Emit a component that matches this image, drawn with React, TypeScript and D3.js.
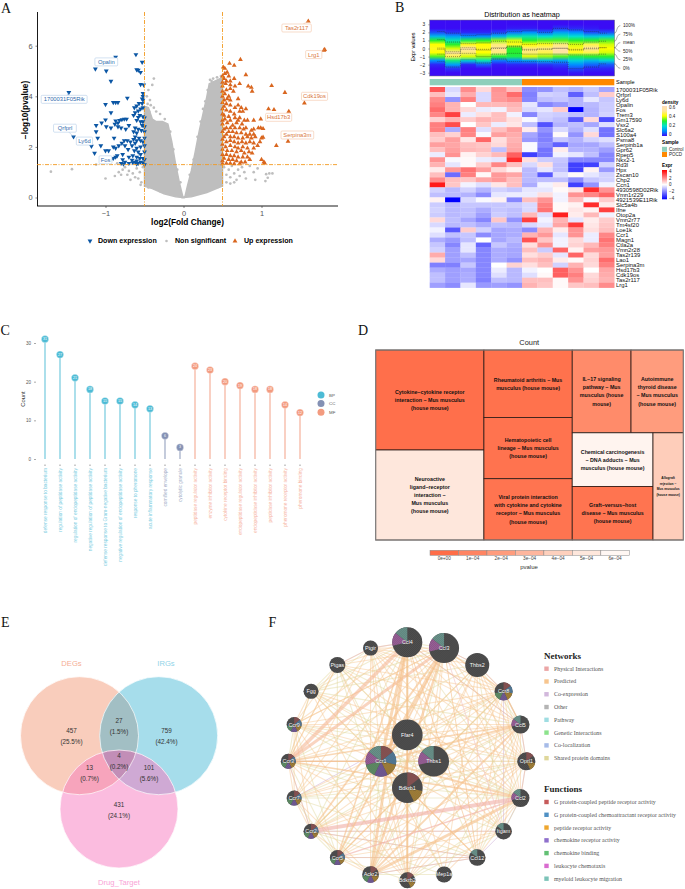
import * as d3 from 'd3';
import React from 'react';
import { useEffect, useRef } from 'react';

// A: volcano points [log2FC, -log10 p]
const downPoints = [[-0.87,5.55],[-0.61,5.65],[-0.53,5.35],[-1.13,5.08],[-0.99,5.0],[-0.6,5.05],[-0.58,5.03],[-0.55,4.95],[-0.93,4.6],[-0.55,4.47],[-0.51,4.45],[-1.47,4.15],[-0.52,4.12],[-0.52,4.0],[-0.53,3.9],[-0.72,3.93],[-1.0,3.68],[-0.9,3.76],[-0.87,3.76],[-0.84,3.76],[-0.52,3.85],[-0.53,3.72],[-0.57,3.72],[-0.6,3.62],[-0.63,3.55],[-0.55,3.5],[-0.58,3.42],[-0.52,3.55],[-0.93,3.35],[-0.62,3.35],[-0.64,3.25],[-0.56,3.25],[-0.58,3.17],[-0.52,3.2],[-0.5,3.15],[-0.6,3.05],[-0.55,3.0],[-0.52,3.0],[-0.53,2.85],[-0.5,2.8],[-0.73,3.1],[-0.76,3.1],[-0.79,3.08],[-0.82,3.05],[-0.87,3.03],[-0.84,2.95],[-0.88,2.9],[-1.0,3.07],[-1.05,2.95],[-1.12,2.85],[-0.93,2.75],[-0.99,2.8],[-0.84,2.8],[-0.8,2.75],[-0.74,2.7],[-0.62,2.75],[-0.64,2.6],[-0.58,2.7],[-0.54,2.65],[-0.5,2.6],[-0.7,2.85],[-0.6,2.55],[-1.12,2.6],[-1.1,2.35],[-0.89,2.35],[-1.18,2.03],[-1.06,2.05],[-0.62,2.4],[-0.64,2.3],[-0.6,2.25],[-0.57,2.35],[-0.55,2.25],[-0.52,2.2],[-0.5,2.35],[-0.62,2.15],[-0.68,2.2],[-0.72,2.25],[-0.76,2.25],[-0.79,2.15],[-0.83,2.05],[-0.87,1.95],[-0.9,2.0],[-0.96,1.85],[-1.0,1.85],[-1.14,1.75],[-0.98,1.5],[-0.93,1.5],[-0.9,1.55],[-0.87,1.6],[-0.85,1.65],[-0.78,1.7],[-0.71,1.9],[-0.75,2.05],[-0.66,2.05],[-0.6,1.95],[-0.55,2.0],[-0.5,2.05],[-0.63,1.85],[-0.58,1.8],[-0.5,1.8],[-0.55,1.7],[-0.7,1.6],[-0.65,1.65],[-0.6,1.6],[-0.56,1.55],[-0.52,1.55],[-0.5,1.5],[-0.78,1.5],[-0.75,1.4],[-0.7,1.35],[-0.65,1.38],[-0.62,1.4],[-0.6,1.45],[-0.58,1.35],[-0.55,1.4],[-0.52,1.38],[-0.66,1.48],[-0.8,1.35],[-0.77,1.33],[-0.6,1.33],[-0.5,1.3],[-1.41,2.4]];
const upPoints = [[1.6,6.97],[1.81,5.85],[1.8,5.82],[0.73,5.45],[0.59,5.3],[0.65,5.22],[0.51,5.15],[0.53,5.1],[0.56,4.95],[0.8,4.85],[0.53,4.9],[0.58,4.8],[0.5,4.8],[0.52,4.7],[0.6,4.6],[0.65,4.7],[0.55,4.6],[0.72,4.5],[0.5,4.55],[0.54,4.5],[0.6,4.45],[0.66,4.4],[0.83,4.4],[0.87,4.35],[1.13,4.42],[0.88,4.2],[1.3,4.15],[0.5,4.4],[0.55,4.25],[0.5,4.2],[0.6,4.3],[0.64,4.2],[0.53,4.1],[0.58,4.0],[0.5,4.0],[0.56,3.9],[0.52,3.85],[0.6,3.85],[0.7,3.9],[0.5,3.75],[0.55,3.7],[0.6,3.65],[0.52,3.6],[0.5,3.5],[1.55,3.73],[1.09,3.5],[1.16,3.47],[1.35,3.4],[0.7,3.65],[0.74,3.55],[0.66,3.55],[0.8,3.5],[0.72,3.4],[0.76,3.4],[0.55,3.45],[0.6,3.4],[0.65,3.3],[0.58,3.2],[0.52,3.25],[0.5,3.3],[0.66,3.15],[0.72,3.15],[0.7,3.05],[0.6,3.05],[0.53,3.1],[0.5,3.05],[0.78,3.05],[0.82,3.05],[0.9,3.05],[0.99,3.1],[0.56,2.95],[0.63,2.85],[0.5,2.9],[0.68,2.95],[0.75,2.9],[0.8,2.75],[0.72,2.75],[0.77,2.7],[0.66,2.75],[0.6,2.75],[0.55,2.75],[0.52,2.7],[0.5,2.6],[0.9,2.7],[0.96,2.75],[0.99,2.75],[1.02,2.72],[0.87,2.65],[0.58,2.6],[0.63,2.6],[0.68,2.55],[0.74,2.55],[0.8,2.5],[0.85,2.5],[0.9,2.5],[0.55,2.5],[0.52,2.4],[0.6,2.4],[0.65,2.4],[0.7,2.35],[0.76,2.35],[0.82,2.4],[0.87,2.35],[0.92,2.4],[1.0,2.35],[1.02,2.38],[0.98,2.2],[1.34,2.22],[1.19,2.05],[0.5,2.3],[0.55,2.2],[0.6,2.25],[0.65,2.2],[0.7,2.15],[0.75,2.2],[0.8,2.15],[0.85,2.2],[0.9,2.15],[0.95,2.05],[0.5,2.1],[0.54,2.0],[0.6,2.05],[0.66,2.0],[0.7,1.95],[0.76,2.0],[0.82,1.95],[0.9,1.95],[0.5,1.9],[0.56,1.85],[0.62,1.85],[0.68,1.8],[0.74,1.85],[0.78,1.75],[0.84,1.8],[0.88,1.75],[0.5,1.7],[0.55,1.7],[0.6,1.65],[0.65,1.65],[0.7,1.6],[0.76,1.6],[0.82,1.6],[0.52,1.55],[0.58,1.5],[0.63,1.5],[0.68,1.45],[0.74,1.4],[0.79,1.4],[0.85,1.5],[1.0,1.5],[1.03,1.4],[1.04,1.36],[0.5,1.45],[0.55,1.35],[0.6,1.35],[0.65,1.33],[0.72,1.33],[0.5,1.33]];
const grayPoints = [[-1.7,1.02],[-1.43,1.12],[-1.12,1.3],[-1.0,0.75],[-0.85,1.35],[-0.88,0.85],[-0.83,1.0],[-0.8,0.9],[-0.78,1.1],[-0.75,1.2],[-0.72,0.9],[-0.7,1.05],[-0.68,0.7],[-0.65,0.95],[-0.62,0.8],[-0.6,1.15],[-0.58,0.75],[-0.56,1.0],[-0.54,0.6],[-0.52,1.2],[-0.55,0.5],[-0.38,4.7],[-0.4,4.45],[-0.45,4.25],[-0.47,4.0],[-0.43,3.85],[-0.46,3.7],[-0.42,3.65],[-0.38,3.55],[-0.35,3.4],[-0.3,3.3],[-0.48,3.55],[-0.44,3.4],[-0.24,3.1],[-0.17,2.6],[-0.13,1.9],[-0.08,1.1],[-0.04,0.6],[0.34,4.65],[0.36,4.6],[0.31,4.25],[0.28,3.8],[0.25,3.5],[0.38,4.7],[0.43,4.75],[0.48,4.8],[0.45,4.55],[0.22,3.0],[0.18,2.4],[0.13,1.5],[0.08,0.9],[0.52,1.2],[0.55,0.9],[0.58,1.1],[0.6,0.8],[0.62,1.25],[0.65,0.95],[0.68,0.7],[0.7,1.1],[0.72,0.85],[0.75,1.2],[0.78,1.0],[0.55,0.6],[0.6,0.55],[0.65,0.6],[0.8,0.75],[0.85,1.25],[0.9,1.0],[1.06,0.92],[1.08,0.78],[1.1,0.95],[1.14,0.95],[0.95,1.15],[0.92,0.7],[1.05,0.65],[-0.3,0.25],[0.3,0.25],[-0.45,0.4],[0.45,0.42]];
const leftWing = [[-0.5,0.45],[-0.5,3.6],[-0.45,3.55],[-0.4,3.1],[-0.35,3.0],[-0.27,3.0],[-0.2,2.9],[-0.15,2.2],[-0.1,1.3],[-0.05,0.55],[-0.01,0.05],[0,0],[-0.1,0.03],[-0.25,0.15],[-0.4,0.35]];
const rightWing = [[0,0],[0.02,0.05],[0.05,0.45],[0.1,1.05],[0.15,1.8],[0.2,2.6],[0.25,3.3],[0.3,4.0],[0.33,4.5],[0.4,4.6],[0.5,4.75],[0.5,0.45],[0.3,0.2],[0.1,0.03]];
const geneBoxes = [
  { name: 'Tas2r117', x: 1.45, y: 6.7, up: true, px: 1.6, py: 6.97 },
  { name: 'Lrg1', x: 1.67, y: 5.65, up: true, px: 1.81, py: 5.85 },
  { name: 'Cdk19os', x: 1.68, y: 4.0, up: true },
  { name: 'Hsd17b3', x: 1.22, y: 3.17, up: true },
  { name: 'Serpina3m', x: 1.46, y: 2.47, up: true },
  { name: 'Opalin', x: -0.99, y: 5.36, up: false, px: -0.87, py: 5.55 },
  { name: '1700031F05Rik', x: -1.53, y: 3.88, up: false, px: -1.47, py: 4.15 },
  { name: 'Qrfprl', x: -1.52, y: 2.74, up: false, px: -1.41, py: 2.4 },
  { name: 'Ly6d', x: -1.27, y: 2.23, up: false },
  { name: 'Fos', x: -1.0, y: 1.49, up: false },
];

// B: heatmap
const geneRows = ['1700031F05Rik','Qrfprl','Ly6d','Opalin','Fos','Trem3','Gm17590','Vsx2','Slc6a2','S100a4','Psma8','Serpinb1a','Gpr62','Rpep5','Nkx2-1','Rd3l','Hpx','Zscan10','Chp2','Ccn1','4930598D02Rik','Vmn1r229','4921539E11Rik','Slc5a4b','Ifne','Otop2a','Vmn2r77','Tm4sf20','Loe1k','Ccr1','Magn1','Ctla2a','Vmn2r28','Tas2r139','Lao1','Serpina3m','Hsd17b3','Cdk19os','Tas2r117','Lrg1'];
const exprMatrix = [
  [2.6,-0.6,1.8,0.6,1.7,1.0,-1.8,-1.7,-1.0,-1.2,-0.8,-1.4],
  [1.0,-0.4,1.3,-0.6,1.6,2.3,-2,-0.7,-0.8,-2.5,-1,0.8],
  [1.8,-1.7,2.0,-0.6,1.6,1.8,-1.9,-1.0,-0.9,-1.2,-0.4,-0.9],
  [2,1.2,0,1.1,1.1,1.2,-0.4,-1.9,-1.6,-1.2,-1.1,-0.8],
  [2.3,1.2,0.6,-0.3,-0.2,1,-0.6,-0.4,0.8,-4,-1.2,-0.8],
  [1.9,3,-0.3,0.5,1,-0.2,-1.9,-0.7,-0.8,-1,-1.2,-0.7],
  [0.7,1.2,0.8,1.2,1,0.5,-0.1,-0.8,-1,-2.6,0.6,-2.8],
  [2,2.8,0,0.9,-0.3,0.4,-1,-2.7,-1.2,-1,-1.4,-0.5],
  [2,-1.3,2,-0.5,1,1.5,0.3,-1.7,-0.6,-1.2,-0.5,-2.2],
  [1,0.7,1.9,-0.1,1.5,1.3,-1.4,-2,0.1,-1.7,0.6,-2.2],
  [0.8,1.5,0.4,2.4,0.5,1.2,-1.6,-2,-0.9,-1.2,-0.7,-0.5],
  [1.5,1.4,1,0.9,0.6,1.3,-0.1,-1.8,-2.5,-1.4,-1.4,-1],
  [1,1.5,1.1,1,-1,1.4,-0.1,-2.2,0.3,-1.2,-1.2,-1.5],
  [-0.3,1.7,0.2,0.7,1.1,2.5,-3,-2.2,-0.2,-0.4,-1,-1.9],
  [1.7,-0.1,0.1,-0.3,-0.4,3.3,0.5,-0.8,-0.9,-1.9,-1.9,-1.9],
  [1.2,-0.4,0.1,0.8,1.9,1,-0.6,0.5,-1,-3,-3,-0.7],
  [0.3,1.6,2.2,1.5,0.6,0.2,-1.1,-0.4,-1,-3,0.2,-1.6],
  [1,-2.3,2,0.1,1.6,1.4,-1.1,-2.6,-0.5,0.1,-0.4,-0.7],
  [1.8,1,0.9,1.4,1.6,1,-1.1,-1,-1,-1.8,-0.9,-0.7],
  [3.6,0.9,-0.2,-0.5,0.4,1,-1.3,-0.2,0.3,-3,-1.7,-0.2],
  [-0.7,-1.1,-0.7,-1.2,-0.7,-0.9,-0.4,-0.4,0.1,0.4,3.3,1.7],
  [-1,-1.1,-1.2,-1.8,-0.4,-0.3,-0.3,0.5,-0.2,1.7,1.9,2.4],
  [0.2,-4,-0.6,-0.1,0.2,-1.9,1,1.7,-0.2,1,-0.1,0.8],
  [-0.8,-1.1,-0.9,-0.9,-0.9,-0.8,-0.6,2.0,0.1,0.2,3.3,0.3],
  [-0.7,-1.1,-1,-1.3,-0.9,-1,-0.6,2.2,0.1,0.4,0.2,3.0],
  [-0.8,-1.1,-1,-1.5,-0.8,-1,1.1,-0.5,3.5,0.3,1.1,-0.2],
  [0.6,-1,-1.4,-1.9,0.9,-1.7,3,-0.2,1.2,-0.4,0.3,0.8],
  [-0.6,-1.1,-1,-1.3,-1,-1.1,-0.6,-0.4,1.4,3.1,0.4,0.9],
  [-0.2,-2.6,0.8,-0.7,-1.4,-1.3,-1.8,1.2,0.3,1.7,0.5,1],
  [-0.5,-1,-0.9,-1.8,-1.4,-1.3,1.2,1.6,-0.4,1.7,-0.3,1.9],
  [-1.3,-1.6,-1,0,-1.4,-1.1,2.7,0.9,-0.2,0.6,-0.3,2.2],
  [-0.9,-1.9,-0.4,-2.4,-0.9,-1.3,0.5,1.7,-0.2,0.7,1.1,2],
  [-0.7,-1.5,-0.4,-1.9,-1.3,-1.4,1,-0.8,2.4,0.2,1.5,1.6],
  [1.3,-1.5,-1,-1.9,-1.3,-1.4,0.5,0.8,-0.4,2.4,0.6,1.5],
  [0.6,-1.5,-1.4,-1.9,-1.3,-1.7,1,1.2,0.3,0.1,0.7,2.3],
  [-2,-2,-0.9,-1.9,0,0.7,0.5,1,-0.7,1.2,0.6,2],
  [-1.3,-1.5,-1.4,-1.9,-0.3,-1.1,-0.2,0,2.5,1.7,0,1.4],
  [-1,-1.5,-1.3,-1.9,-0.5,-1.1,-0.5,0.1,2.5,2,0.6,1.3],
  [-1,-1.5,-1.3,-2,-1,-1.1,1,1,0.1,1.7,0.7,1.2],
  [-1.5,-1.8,-0.4,-1.6,-1.5,-1.7,1.2,0.9,0.1,0.9,1,1.8],
];
const densityLevels = [3,2.5,2,1.5,1,0.5,0,-0.5,-1,-1.5,-2,-2.5,-3];
const densityColumns = [
  [0,0,0.05,0.15,0.3,0.4,0.42,0.4,0.32,0.1,0.02,0,0],
  [0,0,0.03,0.12,0.22,0.3,0.38,0.5,0.45,0.25,0.12,0.03,0],
  [0,0,0.02,0.1,0.28,0.42,0.52,0.48,0.38,0.18,0.02,0,0],
  [0,0,0.02,0.1,0.3,0.4,0.42,0.4,0.35,0.22,0.06,0,0],
  [0,0,0.04,0.15,0.35,0.48,0.5,0.48,0.3,0.08,0.01,0,0],
  [0,0.01,0.08,0.22,0.38,0.42,0.3,0.3,0.28,0.1,0.02,0,0],
  [0,0.01,0.1,0.22,0.3,0.4,0.48,0.48,0.38,0.12,0.02,0,0],
  [0,0,0.07,0.2,0.32,0.42,0.48,0.45,0.35,0.15,0.03,0,0],
  [0,0.03,0.12,0.22,0.32,0.48,0.55,0.52,0.32,0.12,0.04,0.01,0],
  [0,0.02,0.1,0.2,0.3,0.38,0.42,0.42,0.28,0.18,0.1,0.05,0.01],
  [0,0.01,0.05,0.17,0.3,0.45,0.5,0.45,0.3,0.15,0.07,0.02,0],
  [0,0,0.05,0.18,0.32,0.38,0.4,0.38,0.3,0.18,0.06,0.02,0],
];
const q100 = [2.1,1.9,1.6,1.7,1.9,2.1,2.2,2.0,2.5,2.3,2.1,1.9];
const q75 = [1.1,0.8,0.6,0.7,0.9,0.8,0.5,0.6,0.6,0.5,0.8,0.9];
const qMean = [0.05,-0.4,0.1,-0.1,0.1,0.3,-0.1,-0.05,0.05,-0.1,0.05,0.1];
const q50 = [-0.1,-0.6,-0.1,-0.2,0,0.2,-0.2,-0.1,0,-0.2,-0.05,0.1];
const q25 = [-0.7,-1.0,-0.6,-1.0,-0.7,-0.6,-0.7,-0.7,-0.7,-0.8,-0.8,-0.7];
const q0 = [-1.6,-2.3,-1.4,-1.8,-1.3,-1.6,-1.6,-1.6,-1.7,-2.5,-2.3,-1.9];

// C: lollipops
const goTerms = ['defense response to bacterium','regulation of peptidase activity','regulation of endopeptidase activity','negative regulation of peptidase activity','defense response to Gram-negative bacterium','negative regulation of endopeptidase activity','response to pheromone','acute inflammatory response','cornified envelope','cytolytic granule','peptidase regulator activity','enzyme inhibitor activity','cytokine receptor binding','endopeptidase regulator activity','endopeptidase inhibitor activity','peptidase inhibitor activity','pheromone receptor activity','pheromone binding'];
const goCounts = [31,27,21,18,15,15,14,13,6,3,24,23,20,19,18,18,14,12];
const goGroups = ['BP','BP','BP','BP','BP','BP','BP','BP','CC','CC','MF','MF','MF','MF','MF','MF','MF','MF'];

// D: treemap, sizes and p values
const keggTree = { name: 'root', children: [
  { name: 'a', children: [
    { name: 'cytokine', value: 20, p: 0.1e-4, lines: ['Cytokine−cytokine receptor','interaction − Mus musculus','(house mouse)'] },
    { name: 'neuro', value: 18, p: 5e-4, lines: ['Neuroactive','ligand−receptor','interaction −','Mus musculus','(house mouse)'] },
  ] },
  { name: 'b', children: [
    { name: 'rheum', value: 11, p: 0.2e-4, lines: ['Rheumatoid arthritis − Mus','musculus (house mouse)'] },
    { name: 'hema', value: 10, p: 0.25e-4, lines: ['Hematopoietic cell','lineage − Mus musculus','(house mouse)'] },
    { name: 'viral', value: 10, p: 0.3e-4, lines: ['Viral protein interaction','with cytokine and cytokine','receptor − Mus musculus','(house mouse)'] },
  ] },
  { name: 'c', children: [
    { name: 'top', children: [
      { name: 'il17', value: 9, p: 1.3e-4, lines: ['IL−17 signaling','pathway − Mus','musculus (house','mouse)'] },
      { name: 'auto', value: 8, p: 2e-4, lines: ['Autoimmune','thyroid disease','− Mus musculus','(house mouse)'] },
    ] },
    { name: 'bottom', children: [
      { name: 'left', children: [
        { name: 'chem', value: 8, p: 5.8e-4, lines: ['Chemical carcinogenesis','− DNA adducts − Mus','musculus (house mouse)'] },
        { name: 'graft', value: 8, p: 0.3e-4, lines: ['Graft−versus−host','disease − Mus musculus','(house mouse)'] },
      ] },
      { name: 'allo', value: 6, p: 3.9e-4, small: true, lines: ['Allograft','rejection −','Mus musculus','(house mouse)'] },
    ] },
  ] },
] };
const pvalueTicks = ['0e+00','1e−04','2e−04','3e−04','4e−04','5e−04','6e−04'];
const pvalueBins = [0, 1e-4, 2e-4, 3e-4, 4e-4, 5e-4, 6e-4];

// E: venn
const vennCounts = [
  { n: '457', pct: '(25.5%)', x: 71.5, y: 730 },
  { n: '759', pct: '(42.4%)', x: 166.5, y: 730 },
  { n: '27', pct: '(1.5%)', x: 119, y: 720 },
  { n: '4', pct: '(0.2%)', x: 119, y: 755.5 },
  { n: '13', pct: '(0.7%)', x: 89.5, y: 767 },
  { n: '101', pct: '(5.6%)', x: 149, y: 767 },
  { n: '431', pct: '(24.1%)', x: 119, y: 804 },
];

// F: gene network. slots are the function colours present on a node
const ringNodes = ['Ccl4','Ccl3','Thbs2','Ccr8','Ccl5','Oprl1','Ccl2','Itgam','Ccl12','Mep1a','Bdkrb2','Ackr2','Ccr5','Ccr2','Ccr7','Ccr3','Ccr9','Fgg','Ptgas','Ptgir'];
const ringSizes = [15,15,12,9,9,9,9,8.3,8.3,8,8,8.3,7.5,7.5,7.5,7.5,7.5,7.5,8,7.5];
const innerNodes = ['Ffar4','Thbs1','Bdkrb1','Ccr1'];
const innerSizes = [15.3,15.3,15.3,15.3];
const nodeFunctions: any = {
  Ccl4: [5,6], Ccl3: [5,6], Ccl5: [5,6], Ccl2: [5,6], Itgam: [6], Ccl12: [6], Thbs1: [5,6],
  Ccr1: [0,1,2,3,4,5,6], Ccr8: [0,1,2,3,4], Ccr9: [0,1,2,3,4], Ccr3: [0,1,2,3,4], Ccr7: [0,1,2,3,4], Ccr2: [0,1,2,3,4], Ccr5: [0,1,2,3,4],
  Ackr2: [0,2,3,4], Bdkrb1: [0,2], Bdkrb2: [0,2], Oprl1: [0,2],
};
const thickLinks = [
  ['Ccl4','Ccr3',3.5,'#f6b99a'],['Ccl3','Ccr3',3,'#f6b99a'],['Ccl4','Ccr1',3,'#f6c08b'],['Ccl3','Ccr1',3,'#f6c08b'],['Ccl4','Ackr2',2.8,'#f6c08b'],['Ccl3','Ackr2',2.4,'#f6c08b'],['Ccl2','Ackr2',3,'#f6c08b'],['Ccl2','Ccr2',3.8,'#f0b0a8'],['Ccl5','Ccr1',2,'#f6c08b'],['Ccl2','Ccr1',2,'#f6c08b'],['Ccl5','Ccr3',1.5,'#f6c08b'],['Ccl3','Ccr5',1.8,'#f6c08b'],['Ccl3','Ccr2',1.8,'#f6c08b'],['Ccl4','Ccr5',1.5,'#f6c08b'],['Ccl4','Bdkrb2',2.2,'#f6c08b'],['Ccl3','Ccr8',1.5,'#f6c08b'],['Ccl5','Ccr8',1.5,'#f6c08b'],['Ccl5','Ackr2',1.8,'#f6c08b'],['Ccl2','Ccr3',1.6,'#f6c08b'],['Ccl2','Ccr5',1.4,'#f0b0a8'],['Ccl3','Itgam',1,'#f2c4c4'],['Ccl4','Ccl12',1,'#f6c08b'],['Ccl3','Ccl12',1,'#f6c08b'],['Ccr1','Ccl12',1.2,'#f6c08b'],['Ccr1','Ccr3',1.2,'#f6c08b'],
];
const predictedLinks: any[] = [
  ['Ccr3',['Ccr9','Ccr7','Ccr2','Ccr5','Ccr8','Oprl1','Bdkrb1','Bdkrb2','Ptgir','Fgg','Thbs1','Ffar4','Itgam','Ccl12','Ptgas','Thbs2']],
  ['Ccr9',['Ccr7','Ccr2','Ccr5','Ccr8','Ccl5','Ccl2','Ccl3','Ccl4','Oprl1','Thbs1','Ffar4','Bdkrb1','Bdkrb2','Ccr1']],
  ['Ccr7',['Ccr2','Ccr5','Ccr8','Ccl5','Ccl2','Ccl3','Ccl4','Ccr1','Oprl1','Thbs1','Bdkrb1','Ptgir','Ackr2','Ccl12']],
  ['Ccr2',['Ccr5','Ccr8','Ccl5','Ccl4','Ccr1','Oprl1','Thbs2','Ackr2','Bdkrb1','Thbs1','Itgam','Ccl12','Mep1a','Ffar4']],
  ['Ccr5',['Ccr8','Ccl5','Ccr1','Ackr2','Oprl1','Thbs2','Thbs1','Bdkrb1','Bdkrb2','Itgam','Ccl12','Ptgas']],
  ['Ackr2',['Ccr8','Ccr1','Oprl1','Thbs2','Thbs1','Itgam','Ccl12','Mep1a','Bdkrb1','Ptgir','Ffar4']],
  ['Bdkrb2',['Bdkrb1','Ccr1','Ccl5','Ccl2','Ccl3','Oprl1','Thbs1','Ffar4','Ptgir','Ptgas','Fgg','Ccr8','Itgam']],
  ['Mep1a',['Ccr1','Ccl2','Ccl5','Ffar4','Thbs2','Ptgas']],
  ['Ccl12',['Ccr8','Oprl1','Ccl2','Ccl5','Thbs1','Bdkrb1','Thbs2']],
  ['Itgam',['Ccl2','Ccl5','Thbs1','Thbs2','Ccr1','Ccl4','Fgg','Ptgir']],
  ['Ccl2',['Ccl5','Ccl3','Ccl4','Ccr8','Oprl1','Thbs1','Thbs2','Ffar4','Bdkrb1','Ptgas','Ptgir','Fgg']],
  ['Oprl1',['Ccl5','Ccr8','Ccl3','Ccl4','Ccr1','Thbs2','Ptgir','Ptgas','Ffar4','Fgg','Bdkrb1']],
  ['Ccl5',['Ccr8','Ccl3','Ccl4','Thbs2','Thbs1','Ffar4','Bdkrb1','Ptgas','Ptgir','Fgg']],
  ['Ccr8',['Thbs2','Ccl4','Ccr1','Thbs1','Ffar4','Bdkrb1','Ptgir','Ptgas']],
  ['Thbs2',['Ccl3','Ccl4','Thbs1','Ffar4','Fgg','Ptgir']],
  ['Ccl3',['Ccl4','Thbs1','Ffar4','Bdkrb1','Ptgas','Ptgir','Fgg','Ccr9']],
  ['Ccl4',['Thbs1','Ffar4','Bdkrb1','Ptgir','Ptgas','Fgg']],
  ['Ptgir',['Ptgas','Fgg','Ffar4','Ccr1','Bdkrb1']],
  ['Ptgas',['Fgg','Ccr1','Ffar4','Thbs1','Ccr9','Ccr3']],
  ['Fgg',['Ccr9','Ccr3','Ccr1','Thbs1','Bdkrb1']],
  ['Ccr1',['Ffar4','Thbs1','Bdkrb1']],
  ['Ffar4',['Thbs1','Bdkrb1']],
  ['Thbs1',['Bdkrb1']],
];
const coexpressionLinks = [['Ccl4','Ptgir'],['Ptgir','Ptgas'],['Ccl3','Thbs2'],['Thbs2','Ccr8'],['Ccr8','Ccl5'],['Ccl5','Oprl1'],['Oprl1','Ccl2'],['Ccl2','Itgam'],['Itgam','Ccl12'],['Ccl12','Ackr2'],['Ccr5','Ccl12'],['Ccr2','Ccl12'],['Ccr3','Ccr1'],['Ccr7','Ffar4'],['Ccr2','Itgam'],['Ccr8','Itgam'],['Ccl4','Ccl5'],['Ccr2','Ccr3']];
const networkNames = ['Physical Interactions','Predicted','Co-expression','Other','Pathway','Genetic Interactions','Co-localization','Shared protein domains'];
const networkColors = ['#eba6a6','#f7c58e','#d2b8dc','#b4b4b4','#9fdde2','#8ce38c','#a6bbe8','#dfd79b'];
const functionNames = ['G protein-coupled peptide receptor activity','G protein-coupled chemoattractant receptor activity','peptide receptor activity','chemokine receptor activity','chemokine binding','leukocyte chemotaxis','myeloid leukocyte migration'];
const functionColors = ['#c65a5a','#4f90c4','#eea62e','#8f70cc','#62c074','#d96ccf','#7cc3b8'];
const sliceColors = ['#8a4d4d','#4d7a9c','#a8802f','#70559a','#5a8f62','#9c5a9a','#66958c'];

const SANS = '"Liberation Sans", Arial, sans-serif';
const SERIF = '"Liberation Serif", "Times New Roman", serif';

function label(g: any, x: number, y: number, s: string, size: number, fill = '#000', anchor = 'middle', weight = 'normal', family = SANS) {
  return g.append('text').attr('x', x).attr('y', y).attr('font-size', size).attr('fill', fill)
    .attr('text-anchor', anchor).attr('font-weight', weight).attr('font-family', family)
    .attr('dominant-baseline', 'central').text(s);
}

function drawVolcano(svg: any) {
  const x = d3.scaleLinear().domain([-1, 1]).range([105.5, 261.5]);
  const y = d3.scaleLinear().domain([0, 6]).range([197.5, 45.7]);
  const g = svg.append('g').attr('class', 'volcano');
  const axisX = d3.axisBottom(x).tickValues([-1, 0, 1]).tickSize(2).tickFormat(d3.format('d') as any);
  const axisY = d3.axisLeft(y).tickValues([0, 2, 4, 6]).tickSize(2).tickFormat(d3.format('d') as any);
  const gx = g.append('g').attr('transform', 'translate(0,206)').call(axisX);
  const gy = g.append('g').attr('transform', 'translate(37.5,0)').call(axisY);
  gx.select('.domain').attr('d', 'M37,0H338').attr('stroke', '#000').attr('stroke-width', 0.9);
  gy.select('.domain').attr('d', 'M0,12V206').attr('stroke', '#000').attr('stroke-width', 0.9);
  g.selectAll('.tick line').attr('stroke', '#333').attr('stroke-width', 0.6);
  g.selectAll('.tick text').attr('font-size', 7.4).attr('fill', '#555').attr('font-family', SANS);

  const wing = d3.line().x((d: any) => x(d[0])).y((d: any) => y(d[1])).curve(d3.curveLinearClosed);
  [leftWing, rightWing].forEach((w) => {
    g.append('path').attr('d', wing(w as any)).attr('fill', '#bebebe').attr('stroke', '#bebebe').attr('stroke-width', 1.5);
  });
  g.selectAll('.gray').data(grayPoints).join('circle').attr('cx', (d: any) => x(d[0])).attr('cy', (d: any) => y(d[1])).attr('r', 1.35).attr('fill', '#bebebe');

  const tri = d3.symbol(d3.symbolTriangle).size(10);
  g.selectAll('.down').data(downPoints).join('path').attr('d', tri as any)
    .attr('transform', (d: any) => `translate(${x(d[0])},${y(d[1])}) rotate(180)`).attr('fill', '#0b56a4');
  g.selectAll('.up').data(upPoints).join('path').attr('d', tri as any)
    .attr('transform', (d: any) => `translate(${x(d[0])},${y(d[1])})`).attr('fill', '#d9661f');

  const dash = { stroke: '#f29a1e', w: 0.9, arr: '4 1.5 1 1.5' };
  [[x(-0.5), 12, x(-0.5), 206], [x(0.5), 12, x(0.5), 206], [37, y(1.3), 338, y(1.3)]].forEach((l) => {
    g.append('line').attr('x1', l[0]).attr('y1', l[1]).attr('x2', l[2]).attr('y2', l[3])
      .attr('stroke', dash.stroke).attr('stroke-width', dash.w).attr('stroke-dasharray', dash.arr);
  });

  geneBoxes.forEach((b: any) => {
    const w = b.name.length * 3.3 + 3;
    const cx = x(b.x), cy = y(b.y);
    if (b.px !== undefined) {
      g.append('line').attr('x1', cx).attr('y1', cy).attr('x2', x(b.px)).attr('y2', y(b.py))
        .attr('stroke', b.up ? '#e8a57c' : '#7ba4d2').attr('stroke-width', 0.4);
    }
    g.append('rect').attr('x', cx - w / 2).attr('y', cy - 4).attr('width', w).attr('height', 8).attr('rx', 1)
      .attr('fill', '#fff').attr('stroke', b.up ? '#f3c4a6' : '#b4cde8').attr('stroke-width', 0.6);
    label(g, cx, cy, b.name, 5.8, b.up ? '#d9763a' : '#2f6bae');
  });

  label(g, 187.5, 222, 'log2(Fold Change)', 8.3, '#000', 'middle', 'bold');
  label(g, 0, 0, '−log10(pvalue)', 8.3, '#000', 'middle', 'bold').attr('transform', 'translate(25,110) rotate(-90)');
  const leg = g.append('g');
  leg.append('path').attr('d', tri as any).attr('transform', 'translate(90,241) rotate(180)').attr('fill', '#0b56a4');
  label(leg, 98, 241, 'Down expression', 7.1, '#000', 'start', 'bold');
  leg.append('circle').attr('cx', 166.5).attr('cy', 241).attr('r', 1.3).attr('fill', '#bebebe');
  label(leg, 175, 241, 'Non significant', 7.1, '#000', 'start', 'bold');
  leg.append('path').attr('d', tri as any).attr('transform', 'translate(235,241)').attr('fill', '#d9661f');
  label(leg, 244, 241, 'Up expression', 7.1, '#000', 'start', 'bold');
}

function drawHeatmap(svg: any) {
  const g = svg.append('g').attr('class', 'heatmap');
  const left = 429.7, right = 614.3;
  const cols = d3.range(12);
  const x = d3.scaleBand<number>().domain(cols).range([left, right]);
  const yD = d3.scaleLinear().domain([-3, 3]).range([72.7, 24.3]);
  const densColor = d3.scaleLinear<string>().domain([0, 0.1, 0.2, 0.3, 0.4, 0.5, 0.6])
    .range(['#3a0cf5', '#0090ff', '#00e0d0', '#28ef30', '#ffff00', '#ffe69a', '#fedcb8']);

  const defs = g.append('defs');
  densityColumns.forEach((col, i) => {
    const lg = defs.append('linearGradient').attr('id', `dens${i}`).attr('x1', 0).attr('x2', 0).attr('y1', 0).attr('y2', 1)
      .attr('gradientUnits', 'objectBoundingBox');
    lg.append('stop').attr('offset', 0).attr('stop-color', densColor(0));
    col.forEach((v, j) => {
      lg.append('stop').attr('offset', (yD(densityLevels[j]) - 20) / 56).attr('stop-color', densColor(v));
    });
    lg.append('stop').attr('offset', 1).attr('stop-color', densColor(0));
    g.append('rect').attr('x', x(i)).attr('y', 20).attr('width', x.bandwidth() + 0.3).attr('height', 56).attr('fill', `url(#dens${i})`);
  });
  g.append('rect').attr('x', left).attr('y', 20).attr('width', right - left).attr('height', 56).attr('fill', 'none').attr('stroke', '#777').attr('stroke-width', 0.5);

  const quantLine = d3.line<number>().x((_, i) => (x(i) as number) + x.bandwidth() / 2).y((d) => yD(d)).curve(d3.curveStep);
  [q100, q75, qMean, q50, q25, q0].forEach((q) => {
    g.append('path').attr('d', quantLine(q)).attr('fill', 'none').attr('stroke', '#222').attr('stroke-width', 0.45).attr('stroke-dasharray', '1 1');
  });
  const quantNames = ['100%', '75%', 'mean', '50%', '25%', '0%'];
  const quantEnds = [q100[11], q75[11], qMean[11], q50[11], q25[11], q0[11]];
  quantNames.forEach((n, i) => {
    const ly = 25.7 + i * 8.5;
    g.append('path').attr('d', `M${right},${yD(quantEnds[i])}C${right + 3},${yD(quantEnds[i])} ${right + 2},${ly} ${right + 6},${ly}`)
      .attr('fill', 'none').attr('stroke', '#333').attr('stroke-width', 0.4);
    label(g, 623, ly, n, 4.7, '#222', 'start');
  });
  const ay = g.append('g').attr('transform', `translate(${left},0)`).call(d3.axisLeft(yD).ticks(7).tickSize(1.5).tickFormat(d3.format('d') as any));
  ay.select('.domain').remove();
  ay.selectAll('text').attr('font-size', 4.8).attr('fill', '#222').attr('font-family', SANS);
  ay.selectAll('line').attr('stroke', '#333').attr('stroke-width', 0.4);
  label(g, 522, 14.5, 'Distribution as heatmap', 7.2);
  label(g, 0, 0, 'Expr values', 5.6).attr('transform', 'translate(413,47) rotate(-90)');

  // sample bar
  g.append('rect').attr('x', left).attr('y', 79).attr('width', x(6)! - left).attr('height', 6.3).attr('fill', '#8fcfbb');
  g.append('rect').attr('x', x(6)).attr('y', 79).attr('width', right - x(6)!).attr('height', 6.3).attr('fill', '#ff8800');
  label(g, 616, 82.2, 'Sample', 5.5, '#000', 'start');

  // body
  const yH = d3.scaleBand<string>().domain(geneRows).range([87, 287.7]);
  const color = d3.scaleLinear<string>().domain([-4, 0, 4]).range(['#0000ff', '#ffffff', '#ff0000']).clamp(true);
  exprMatrix.forEach((row, r) => {
    g.selectAll(`.r${r}`).data(row).join('rect').attr('x', (_: any, i: number) => x(i)).attr('y', yH(geneRows[r]))
      .attr('width', x.bandwidth() + 0.2).attr('height', yH.bandwidth() + 0.2).attr('fill', (d: any) => color(d));
    label(g, 616, (yH(geneRows[r]) as number) + yH.bandwidth() / 2, geneRows[r], 5.9, '#111', 'start');
  });

  // legends
  label(g, 662, 102, 'density', 4.7, '#000', 'start', 'bold');
  const densGrad = defs.append('linearGradient').attr('id', 'densLegend').attr('x1', 0).attr('x2', 0).attr('y1', 1).attr('y2', 0);
  d3.range(0, 0.61, 0.1).forEach((v) => densGrad.append('stop').attr('offset', v / 0.6).attr('stop-color', densColor(v)));
  g.append('rect').attr('x', 662).attr('y', 106).attr('width', 5).attr('height', 30).attr('fill', 'url(#densLegend)');
  [[0.6, 107.7], [0.4, 116.3], [0.2, 125], [0, 134]].forEach((d) => label(g, 669, d[1], String(d[0]), 4.5, '#222', 'start'));
  label(g, 662, 142.7, 'Sample', 4.7, '#000', 'start', 'bold');
  g.append('rect').attr('x', 662).attr('y', 146.8).attr('width', 5).attr('height', 5).attr('fill', '#8fcfbb');
  g.append('rect').attr('x', 662).attr('y', 152).attr('width', 5).attr('height', 5).attr('fill', '#ff8800');
  label(g, 669, 149.3, 'Control', 4.5, '#222', 'start');
  label(g, 669, 154.6, 'POCD', 4.5, '#222', 'start');
  label(g, 662, 165.7, 'Expr', 4.7, '#000', 'start', 'bold');
  const exprGrad = defs.append('linearGradient').attr('id', 'exprLegend').attr('x1', 0).attr('x2', 0).attr('y1', 0).attr('y2', 1);
  [['0', '#ff0000'], ['0.5', '#ffffff'], ['1', '#0000ff']].forEach((s) => exprGrad.append('stop').attr('offset', s[0]).attr('stop-color', s[1]));
  g.append('rect').attr('x', 662).attr('y', 170).attr('width', 5).attr('height', 29.3).attr('fill', 'url(#exprLegend)');
  [['4', 171], ['2', 178], ['0', 184.7], ['−2', 191.3], ['−4', 198]].forEach((d) => label(g, 669, d[1] as number, d[0] as string, 4.5, '#222', 'start'));
}

function drawLollipop(svg: any) {
  const g = svg.append('g').attr('class', 'lollipop');
  const x = d3.scalePoint<string>().domain(goTerms).range([45, 300]);
  const y = d3.scaleLinear().domain([0, 30]).range([459, 343]);
  const color = d3.scaleOrdinal<string>().domain(['BP', 'CC', 'MF']).range(['#4dbbd5', '#8491b4', '#f39b7f']);

  const ay = g.append('g').attr('transform', 'translate(36,0)').call(d3.axisLeft(y).tickValues([0, 10, 20, 30]).tickSize(2));
  ay.select('.domain').remove();
  ay.selectAll('text').attr('font-size', 4.6).attr('fill', '#555').attr('font-family', SANS);
  ay.selectAll('line').attr('stroke', '#555').attr('stroke-width', 0.5);
  label(g, 0, 0, 'Count', 5.8, '#333').attr('transform', 'translate(23,399) rotate(-90)');

  goTerms.forEach((t, i) => {
    const cx = x(t) as number;
    const c = color(goGroups[i]);
    g.append('line').attr('x1', cx).attr('x2', cx).attr('y1', 459).attr('y2', y(goCounts[i])).attr('stroke', c).attr('stroke-opacity', 0.72).attr('stroke-width', 1.3);
    g.append('circle').attr('cx', cx).attr('cy', y(goCounts[i])).attr('r', 3.6).attr('fill', c).attr('stroke', '#fff').attr('stroke-opacity', 0.55).attr('stroke-width', 0.6);
    label(g, cx, y(goCounts[i]), String(goCounts[i]), 3.6, '#fff');
    g.append('line').attr('x1', cx).attr('x2', cx).attr('y1', 464.5).attr('y2', 466).attr('stroke', '#333').attr('stroke-width', 0.5);
    g.append('text').attr('transform', `translate(${cx + 1.6},468) rotate(-90)`).attr('text-anchor', 'end').attr('font-size', 4.75)
      .attr('font-family', SANS).attr('fill', c).attr('fill-opacity', 0.75).text(t);
  });

  ['BP', 'CC', 'MF'].forEach((n, i) => {
    const ly = 395 + i * 8.6;
    g.append('circle').attr('cx', 321).attr('cy', ly).attr('r', 3.5).attr('fill', color(n));
    label(g, 329, ly, n, 4.4, '#555', 'start');
  });
}

function drawTreemap(svg: any) {
  const g = svg.append('g').attr('class', 'treemap').attr('transform', 'translate(375.7,350)');
  const root = d3.hierarchy<any>(keggTree).sum((d: any) => d.value || 0);
  d3.treemap<any>().tile(d3.treemapSliceDice).size([307.6, 190])(root);
  const color = d3.scaleLinear<string>().domain([0, 1e-4, 2e-4, 3e-4, 4e-4, 5e-4, 6.5e-4])
    .range(['#ff6d48', '#ff8462', '#ff9c7d', '#ffb69e', '#fed0bd', '#fee7dc', '#ffffff']);
  root.leaves().forEach((n: any) => {
    g.append('rect').attr('x', n.x0).attr('y', n.y0).attr('width', n.x1 - n.x0).attr('height', n.y1 - n.y0)
      .attr('fill', color(n.data.p)).attr('stroke', '#2a1a16').attr('stroke-width', 0.8);
    const cx = (n.x0 + n.x1) / 2, cy = (n.y0 + n.y1) / 2;
    const step = n.data.small ? 5.8 : 8.1;
    const lines = n.data.lines;
    lines.forEach((l: string, i: number) => {
      label(g, cx, cy + (i - (lines.length - 1) / 2) * step, l, n.data.small ? 3.3 : 5.3, '#111', 'middle', 'bold');
    });
  });
  g.append('rect').attr('width', 307.6).attr('height', 190).attr('fill', 'none').attr('stroke', '#8a8a8a').attr('stroke-width', 1);
  label(g, 153.5, -7.3, 'Count', 7.4, '#222');

  // legend
  const lg = svg.append('g').attr('class', 'treemap-legend');
  const bx = d3.scaleBand<string>().domain(pvalueTicks).range([430, 629.3]);
  pvalueTicks.forEach((t, i) => {
    lg.append('rect').attr('x', bx(t)).attr('y', 550.3).attr('width', bx.bandwidth()).attr('height', 5).attr('fill', color(pvalueBins[i])).attr('stroke', '#888').attr('stroke-width', 0.5);
    label(lg, (bx(t) as number) + bx.bandwidth() / 2, 558.8, t, 4.7, '#444');
  });
  label(lg, 529, 566.7, 'pvalue', 6, '#333');
}

function drawVenn(svg: any) {
  const g = svg.append('g').attr('class', 'venn');
  const A = { cx: 79.5, cy: 735.7, r: 59 }, B = { cx: 158.7, cy: 735.7, r: 59 }, C = { cx: 119, cy: 809, r: 59 };
  const defs = g.append('defs');
  [['cA', A], ['cB', B], ['cC', C]].forEach((d: any) => {
    defs.append('clipPath').attr('id', d[0]).append('circle').attr('cx', d[1].cx).attr('cy', d[1].cy).attr('r', d[1].r);
  });
  const disc = (p: any, c: any, fill: string) => p.append('circle').attr('cx', c.cx).attr('cy', c.cy).attr('r', c.r).attr('fill', fill);
  disc(g, A, '#f9cdbc'); disc(g, B, '#a6ddeb'); disc(g, C, '#fbbcdf');
  disc(g.append('g').attr('clip-path', 'url(#cA)'), B, '#a2bfc4');
  disc(g.append('g').attr('clip-path', 'url(#cA)'), C, '#f7a4bc');
  disc(g.append('g').attr('clip-path', 'url(#cB)'), C, '#cfa9d4');
  disc(g.append('g').attr('clip-path', 'url(#cA)').append('g').attr('clip-path', 'url(#cB)'), C, '#c28eb7');
  [A, B, C].forEach((c) => g.append('circle').attr('cx', c.cx).attr('cy', c.cy).attr('r', c.r).attr('fill', 'none').attr('stroke', '#fff').attr('stroke-width', 0.7));
  label(g, 71.5, 663, 'DEGs', 7.6, '#f5ae96');
  label(g, 166, 663, 'IRGs', 7.6, '#8fd3e8');
  label(g, 119, 882.7, 'Drug_Target', 7.6, '#f9a3d6');
  vennCounts.forEach((v) => {
    label(g, v.x, v.y, v.n, 6.3, '#333');
    label(g, v.x, v.y + 11, v.pct, 6.3, '#333');
  });
}

function drawNetwork(svg: any) {
  const g = svg.append('g').attr('class', 'network');
  const cx = 407.3, cy = 761.3;
  const angle = d3.scaleLinear().domain([0, 20]).range([0, 2 * Math.PI]);
  const pos: any = {};
  ringNodes.forEach((n, i) => {
    pos[n] = { x: cx + 119 * Math.sin(angle(i)), y: cy - 119 * Math.cos(angle(i)), r: ringSizes[i] };
  });
  innerNodes.forEach((n, i) => {
    pos[n] = { x: cx + 26.4 * Math.sin(angle(i * 5)), y: cy - 26.4 * Math.cos(angle(i * 5)), r: innerSizes[i] };
  });
  const edge = (a: string, b: string, stroke: string, w: number, op: number) => {
    g.append('line').attr('x1', pos[a].x).attr('y1', pos[a].y).attr('x2', pos[b].x).attr('y2', pos[b].y)
      .attr('stroke', stroke).attr('stroke-width', w).attr('stroke-opacity', op);
  };
  coexpressionLinks.forEach((l) => edge(l[0], l[1], networkColors[2], 1, 0.6));
  predictedLinks.forEach((l: any, i: number) => {
    l[1].forEach((t: string, j: number) => {
      const c = (i + j) % 3 === 0 ? networkColors[7] : networkColors[1];
      edge(l[0], t, c, 1.1, 0.45);
    });
  });
  thickLinks.forEach((l: any) => edge(l[0], l[1], l[3], l[2], 0.62));

  const defs = g.append('defs');
  const hatch = defs.append('pattern').attr('id', 'nodeHatch').attr('width', 1.4).attr('height', 1.4)
    .attr('patternUnits', 'userSpaceOnUse').attr('patternTransform', 'rotate(45)');
  hatch.append('line').attr('x1', 0).attr('y1', 0).attr('x2', 0).attr('y2', 1.4).attr('stroke', '#5d5d5d').attr('stroke-width', 0.5);

  const pie = d3.pie<number>().value(1).sort(null);
  const slices = pie(d3.range(7));
  Object.keys(pos).forEach((n) => {
    const p = pos[n];
    const ng = g.append('g').attr('transform', `translate(${p.x},${p.y})`);
    ng.append('circle').attr('r', p.r).attr('fill', '#474747');
    const arc = d3.arc<any>().innerRadius(0).outerRadius(p.r);
    (nodeFunctions[n] || []).forEach((f: number) => {
      ng.append('path').attr('d', arc(slices[f])).attr('fill', sliceColors[f]);
    });
    ng.append('circle').attr('r', p.r).attr('fill', 'url(#nodeHatch)');
    label(ng, 0, 0, n, 5.4, '#fff').attr('stroke', '#333').attr('stroke-width', 0.25).attr('paint-order', 'stroke');
  });

  // legends
  const lg = svg.append('g').attr('class', 'network-legend');
  label(lg, 544, 655.7, 'Networks', 9, '#222', 'start', 'bold', SERIF);
  networkNames.forEach((n, i) => {
    const ly = 668.7 + i * 12.78;
    lg.append('rect').attr('x', 544.3).attr('y', ly - 2.2).attr('width', 4.4).attr('height', 4.4).attr('fill', networkColors[i]);
    label(lg, 554, ly, n, 5.9, '#555', 'start', 'normal', SERIF);
  });
  label(lg, 544, 789, 'Functions', 9, '#222', 'start', 'bold', SERIF);
  functionNames.forEach((n, i) => {
    const ly = 802 + i * 12.78;
    lg.append('rect').attr('x', 544.3).attr('y', ly - 2.2).attr('width', 4.4).attr('height', 4.4).attr('fill', functionColors[i]);
    label(lg, 554, ly, n, 5.9, '#555', 'start', 'normal', SERIF);
  });
}

const App = () => {
  const ref = useRef<any>();

  useEffect(() => {
    const svg = d3.select<any, any>(ref.current);
    svg.selectAll('*').remove();
    drawVolcano(svg);
    drawHeatmap(svg);
    drawLollipop(svg);
    drawTreemap(svg);
    drawVenn(svg);
    drawNetwork(svg);
    [['A', 1, 8], ['B', 395, 7], ['C', 0.5, 330], ['D', 358, 330], ['E', 1, 622], ['F', 268.5, 622]].forEach((p: any) => {
      label(svg, p[1], p[2], p[0], 14, '#111', 'start', 'normal', SERIF);
    });
  });

  return (
    <div style={{ position: 'absolute', left: 0, top: 0 }}>
      <svg ref={ref} width={685} height={889} style={{ display: 'block', background: '#fff' }}></svg>
    </div>
  );
};

export default App;
